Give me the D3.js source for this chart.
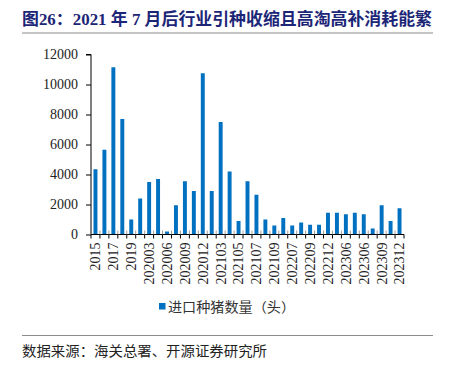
<!DOCTYPE html>
<html><head><meta charset="utf-8">
<script src="https://cdn.jsdelivr.net/npm/d3@7"></script>
<style>
html,body{margin:0;padding:0;background:#fff;}
svg{display:block;}
</style></head>
<body>
<script>
const categories = ["2015","2016","2017","2018","2019","202001","202003","202004","202006","202007",
  "202009","202010","202012","202101","202103","202104","202105","202106","202107","202108",
  "202109","202110","202207","202208","202209","202210","202212","202301","202306","202307",
  "202306","202308","202309","202310","202312"];
const tickLabels = ["2015","","2017","","2019","","202003","","202006","",
  "202009","","202012","","202103","","202105","","202107","",
  "202109","","202207","","202209","","202212","","202306","",
  "202306","","202309","","202312"];
const values = [4350,5650,11150,7700,1000,2400,3500,3700,200,1950,
  3550,2900,10750,2900,7500,4200,900,3550,2650,1000,
  600,1100,600,800,650,650,1450,1450,1350,1450,
  1350,400,1950,900,1750];
const yTicks = [0,2000,4000,6000,8000,10000,12000];
const seriesName = "进口种猪数量（头）";
const titleText = "图26：2021 年 7 月后行业引种收缩且高淘高补消耗能繁";
const sourceText = "数据来源：海关总署、开源证券研究所";

const W = 452, H = 365;
const svg = d3.select("body").append("svg").attr("width", W).attr("height", H);
const serif = "'Times New Roman','Liberation Serif',serif";
const cjk = "'Noto Sans CJK SC','Noto Sans',sans-serif";

// Title
svg.append("text").attr("x", 22).attr("y", 25)
  .attr("font-family", "'Liberation Serif','Noto Sans CJK SC',serif")
  .attr("font-weight", "bold").attr("font-size", 16.5).attr("fill", "#1c2677")
  .attr("textLength", 410).attr("lengthAdjust", "spacingAndGlyphs")
  .text(titleText);
svg.append("line").attr("x1", 22).attr("x2", 433).attr("y1", 33).attr("y2", 33)
  .attr("stroke", "#8c8c8c").attr("stroke-width", 1.2);

// Scales
const x = d3.scaleBand().domain(d3.range(categories.length)).range([91, 404])
  .paddingInner(0.56).paddingOuter(0.28);
const y = d3.scaleLinear().domain([0, 12000]).range([234.5, 54.5]);

// Y axis
const ya = svg.append("g").attr("transform", "translate(91,0)")
  .call(d3.axisLeft(y).tickValues(yTicks).tickSize(5).tickPadding(8).tickFormat(d3.format("d")));
ya.select(".domain").attr("stroke", "#000").attr("d", `M-5,${y(12000)}H0V${y(0)}`);
ya.selectAll(".tick line").attr("stroke", "#000");
ya.selectAll(".tick text").attr("font-family", serif).attr("font-size", 14).attr("fill", "#222");

// Bars
svg.append("g").selectAll("rect").data(values).join("rect")
  .attr("x", (d, i) => x(i)).attr("width", x.bandwidth())
  .attr("y", d => y(d)).attr("height", d => y(0) - y(d))
  .attr("fill", "#0070c0");

// X axis
const xa = svg.append("g").attr("transform", `translate(0,${y(0)})`)
  .call(d3.axisBottom(x).tickSize(0).tickFormat(i => tickLabels[i]));
xa.select(".domain").attr("stroke", "#000").attr("d", `M91,0H404`);
xa.selectAll(".tick text")
  .attr("font-family", serif).attr("font-size", 14).attr("fill", "#222")
  .attr("transform", "rotate(-90)").attr("text-anchor", "end")
  .attr("x", -8).attr("y", 0).attr("dy", "0.35em");

// boundary ticks
const step = x.step();
const bounds = d3.range(categories.length + 1).map(i => 91 + i * step);
const tg = svg.append("g");
tg.selectAll("line.up").data(bounds.slice(1, -1)).join("line")
  .attr("x1", d => d).attr("x2", d => d).attr("y1", y(0) - 4).attr("y2", y(0))
  .attr("stroke", "#a0a0a0").attr("stroke-width", 1);
tg.selectAll("line.dn").data(bounds).join("line")
  .attr("x1", d => d).attr("x2", d => d).attr("y1", y(0)).attr("y2", y(0) + 4)
  .attr("stroke", "#000").attr("stroke-width", 1);

// Legend
svg.append("rect").attr("x", 159).attr("y", 303).attr("width", 6.5).attr("height", 6.5).attr("fill", "#0070c0");
svg.append("text").attr("x", 168).attr("y", 311.5).attr("font-family", cjk).attr("font-size", 13.5)
  .attr("fill", "#333").attr("textLength", 127).attr("lengthAdjust", "spacingAndGlyphs").text(seriesName);

// Source
svg.append("line").attr("x1", 22).attr("x2", 433).attr("y1", 335.5).attr("y2", 335.5)
  .attr("stroke", "#8c8c8c").attr("stroke-width", 1.2);
svg.append("text").attr("x", 22).attr("y", 356).attr("font-family", cjk).attr("font-size", 13.5)
  .attr("fill", "#222").attr("textLength", 245).attr("lengthAdjust", "spacingAndGlyphs").text(sourceText);
</script>
</body></html>
